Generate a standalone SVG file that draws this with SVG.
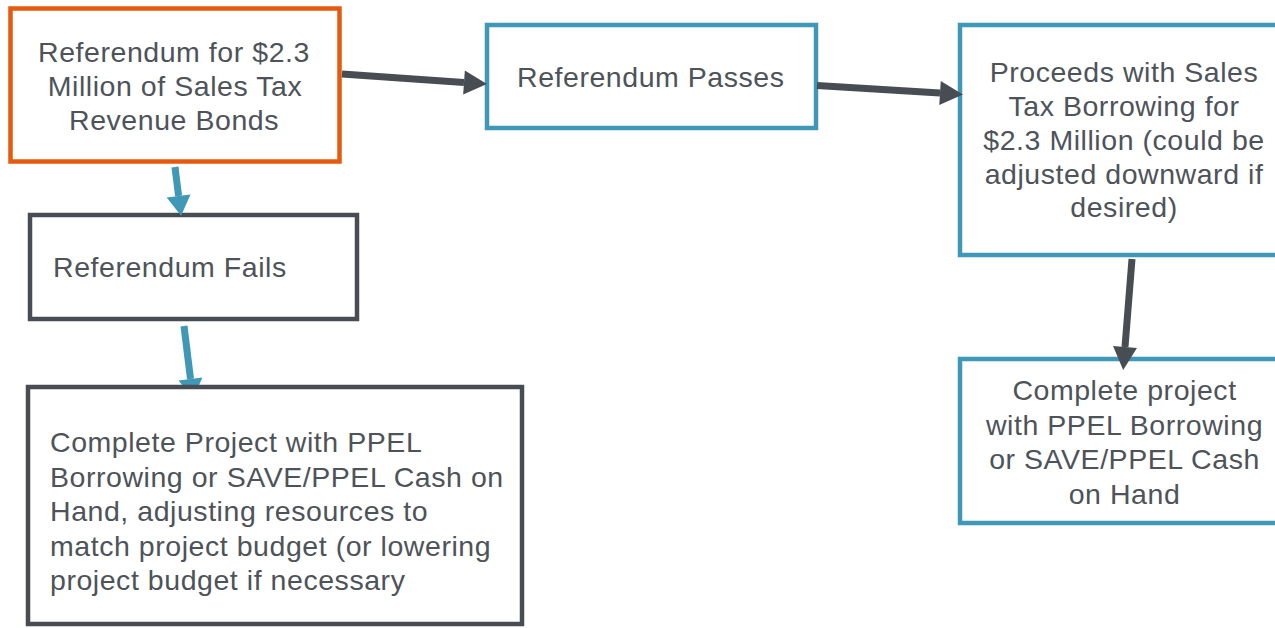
<svg xmlns="http://www.w3.org/2000/svg" width="1275" height="628" viewBox="0 0 1275 628">
  <style>
    .box { fill: #ffffff; stroke-width: 4.5; }
    .orange { stroke: #E55A0E; }
    .teal { stroke: #3F98B6; }
    .gray { stroke: #484D54; }
    text { font-family: "Liberation Sans", Arial, sans-serif; font-size: 28.5px; fill: #4E535A; letter-spacing: 0.55px; }
    .mid { text-anchor: middle; }
    .link { fill: none; stroke-width: 7; stroke-linecap: butt; }
    .link.dark { stroke: #484D54; marker-end: url(#headDark); }
    .link.blue { stroke: #3F98B6; marker-end: url(#headBlue); }
  </style>
  <defs>
    <!-- arrowheads start at the line end and point forward -->
    <marker id="headDark" markerUnits="userSpaceOnUse" markerWidth="24" markerHeight="26" refX="0" refY="12" orient="auto" overflow="visible">
      <path d="M0,0 L23,12 L0,24 Z" fill="#484D54"/>
    </marker>
    <marker id="headBlue" markerUnits="userSpaceOnUse" markerWidth="24" markerHeight="26" refX="0" refY="12" orient="auto" overflow="visible">
      <path d="M0,0 L20,12 L0,24 Z" fill="#3F98B6"/>
    </marker>
  </defs>

  <rect width="1275" height="628" fill="#ffffff"/>

  <g id="referendum">
    <rect class="box orange" x="10.5" y="8.5" width="329" height="153"/>
    <text class="mid" x="174" y="62">Referendum for $2.3</text>
    <text class="mid" x="175" y="96">Million of Sales Tax</text>
    <text class="mid" x="174" y="129.5">Revenue Bonds</text>
  </g>

  <g id="fails">
    <rect class="box gray" x="30" y="215" width="327" height="104"/>
    <text x="53" y="277">Referendum Fails</text>
  </g>

  <g id="passes">
    <rect class="box teal" x="487" y="25" width="329" height="103"/>
    <text x="517" y="87">Referendum Passes</text>
  </g>

  <g id="proceeds">
    <rect class="box teal" x="960" y="25" width="330" height="230"/>
    <text class="mid" x="1124" y="81.5">Proceeds with Sales</text>
    <text class="mid" x="1124" y="115.5">Tax Borrowing for</text>
    <text class="mid" x="1124" y="150">$2.3 Million (could be</text>
    <text class="mid" x="1124" y="184">adjusted downward if</text>
    <text class="mid" x="1124" y="217">desired)</text>
  </g>

  <g id="complete-pass">
    <rect class="box teal" x="960" y="359" width="330" height="164"/>
    <text class="mid" x="1124.5" y="400">Complete project</text>
    <text class="mid" x="1124.5" y="435">with PPEL Borrowing</text>
    <text class="mid" x="1124.5" y="469">or SAVE/PPEL Cash</text>
    <text class="mid" x="1124.5" y="504">on Hand</text>
  </g>

  <g id="connectors">
    <line class="link dark" x1="342" y1="74" x2="464" y2="82.5"/>
    <line class="link dark" x1="817" y1="85.5" x2="940" y2="93"/>
    <line class="link blue" x1="175" y1="167" x2="178.6" y2="196"/>
    <line class="link blue" x1="184" y1="326" x2="190.5" y2="379"/>
    <line class="link dark" x1="1132" y1="259" x2="1125" y2="347"/>
  </g>

  <g id="complete-fail">
    <rect class="box gray" x="28" y="387" width="494" height="237"/>
    <text x="50" y="452">Complete Project with PPEL</text>
    <text x="50" y="486.5">Borrowing or SAVE/PPEL Cash on</text>
    <text x="50" y="521">Hand, adjusting resources to</text>
    <text x="50" y="555.5">match project budget (or lowering</text>
    <text x="50" y="590">project budget if necessary</text>
  </g>
</svg>
